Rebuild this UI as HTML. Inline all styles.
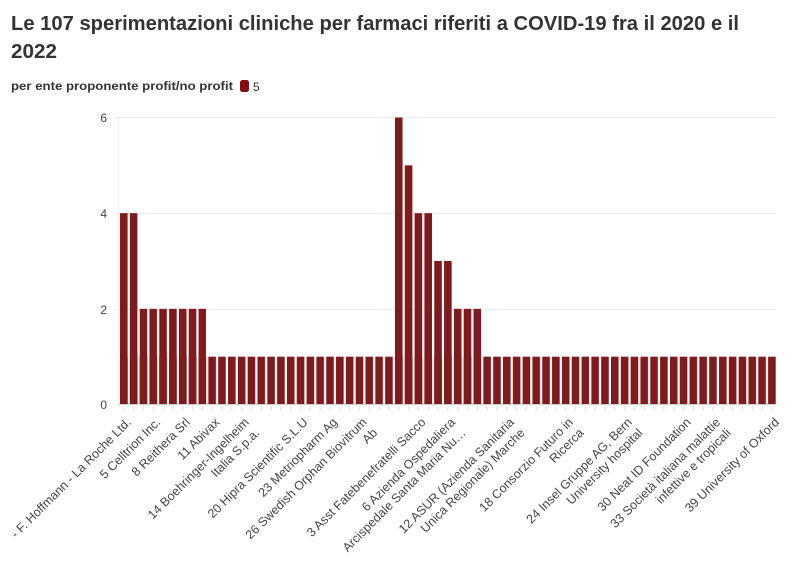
<!DOCTYPE html>
<html><head><meta charset="utf-8"><style>
html,body{margin:0;padding:0;background:#fff;}
svg{display:block;font-family:"Liberation Sans",sans-serif;}
</style></head><body>
<svg width="796" height="575" viewBox="0 0 796 575" xmlns="http://www.w3.org/2000/svg">
<defs>
<pattern id="pb" patternUnits="userSpaceOnUse" x="120" y="0" width="9.82" height="575">
<rect x="0" y="0" width="7.6" height="575" fill="#7f1a1d"/>
</pattern>
<pattern id="pt" patternUnits="userSpaceOnUse" x="120" y="0" width="9.82" height="575">
<rect x="3.3" y="0" width="1" height="575" fill="#ddd"/>
</pattern>
</defs>
<text x="11" y="30" font-size="20" font-weight="bold" fill="#333" textLength="728" lengthAdjust="spacingAndGlyphs">Le 107 sperimentazioni cliniche per farmaci riferiti a COVID-19 fra il 2020 e il</text>
<text x="11" y="58" font-size="20" font-weight="bold" fill="#333" textLength="46" lengthAdjust="spacingAndGlyphs">2022</text>
<text x="11" y="90" font-size="12" font-weight="bold" fill="#333" textLength="222" lengthAdjust="spacingAndGlyphs">per ente proponente profit/no profit</text>
<rect x="240" y="80" width="9" height="12" rx="2.5" fill="#7f0f0f"/>
<text x="253" y="91" font-size="12" fill="#333">5</text>
<g stroke="#eee" stroke-width="1">
<line x1="114" y1="117.5" x2="776" y2="117.5"/>
<line x1="114" y1="213.5" x2="776" y2="213.5"/>
<line x1="114" y1="309.5" x2="776" y2="309.5"/>
<line x1="118.5" y1="117" x2="118.5" y2="405"/>
</g>
<g font-size="12" fill="#444" text-anchor="end">
<text x="107" y="122">6</text>
<text x="107" y="218">4</text>
<text x="107" y="314">2</text>
<text x="107" y="409">0</text>
</g>
<rect x="120" y="356.67" width="656" height="47.83" fill="url(#pb)"/>
<g fill="#7f1a1d">
<rect x="120.00" y="213.17" width="7.6" height="191.33"/>
<rect x="129.82" y="213.17" width="7.6" height="191.33"/>
<rect x="139.64" y="308.83" width="66.34" height="95.67" fill="url(#pb)"/>
<rect x="394.96" y="117.5" width="7.6" height="287"/>
<rect x="404.78" y="165.33" width="7.6" height="239.17"/>
<rect x="414.60" y="213.17" width="7.6" height="191.33"/>
<rect x="424.42" y="213.17" width="7.6" height="191.33"/>
<rect x="434.24" y="261" width="7.6" height="143.5"/>
<rect x="444.06" y="261" width="7.6" height="143.5"/>
<rect x="453.88" y="308.83" width="7.6" height="95.67"/>
<rect x="463.70" y="308.83" width="7.6" height="95.67"/>
<rect x="473.52" y="308.83" width="7.6" height="95.67"/>
</g>
<rect x="120" y="406" width="656" height="5" fill="url(#pt)"/>
<line x1="118" y1="404.5" x2="776" y2="404.5" stroke="#ccc"/>
<g font-size="12.5" fill="#444" text-anchor="end">
<text transform="translate(131.8,423) rotate(-45)">- F. Hoffmann - La Roche Ltd.</text>
<text transform="translate(161.26,423) rotate(-45)">5 Celltrion Inc.</text>
<text transform="translate(190.72,423) rotate(-45)">8 Reithera Srl</text>
<text transform="translate(220.18,423) rotate(-45)">11 Abivax</text>
<text transform="translate(249.64,423) rotate(-45)"><tspan x="0" y="0">14 Boehringer-Ingelheim</tspan><tspan x="0" y="15">Italia S.p.a.</tspan></text>
<text transform="translate(308.56,423) rotate(-45)">20 Hipra Scientific S.L.U</text>
<text transform="translate(338.02,423) rotate(-45)">23 Metriopharm Ag</text>
<text transform="translate(367.48,423) rotate(-45)"><tspan x="0" y="0">26 Swedish Orphan Biovitrum</tspan><tspan x="0" y="15">Ab</tspan></text>
<text transform="translate(426.4,423) rotate(-45)">3 Asst Fatebenefratelli Sacco</text>
<text transform="translate(455.86,423) rotate(-45)"><tspan x="0" y="0">6 Azienda Ospedaliera</tspan><tspan x="0" y="15">Arcispedale Santa Maria Nu…</tspan></text>
<text transform="translate(514.78,423) rotate(-45)"><tspan x="0" y="0">12 ASUR (Azienda Sanitaria</tspan><tspan x="0" y="15">Unica Regionale) Marche</tspan></text>
<text transform="translate(573.7,423) rotate(-45)"><tspan x="0" y="0">18 Consorzio Futuro in</tspan><tspan x="0" y="15">Ricerca</tspan></text>
<text transform="translate(632.62,423) rotate(-45)"><tspan x="0" y="0">24 Insel Gruppe AG, Bern</tspan><tspan x="0" y="15">University hospital</tspan></text>
<text transform="translate(691.54,423) rotate(-45)">30 Neat ID Foundation</text>
<text transform="translate(721,423) rotate(-45)"><tspan x="0" y="0">33 Società italiana malattie</tspan><tspan x="0" y="15">infettive e tropicali</tspan></text>
<text transform="translate(779.92,423) rotate(-45)">39 University of Oxford</text>
</g>
</svg>
</body></html>
